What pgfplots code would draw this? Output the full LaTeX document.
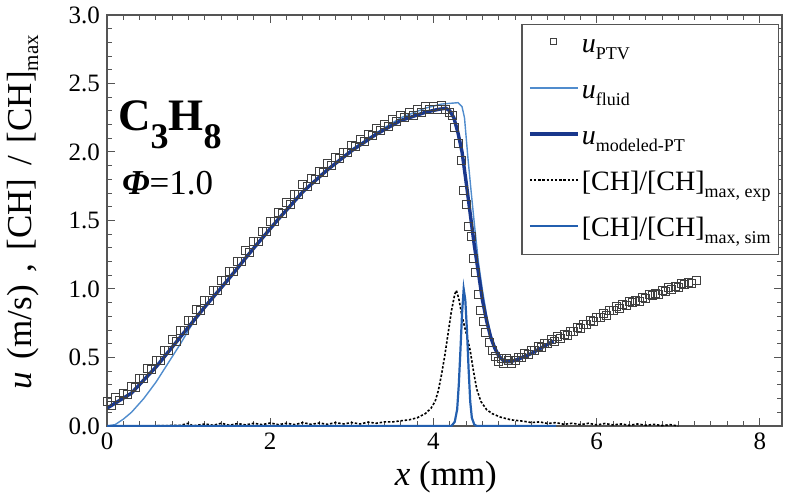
\documentclass[border=0pt]{standalone}
\usepackage{fontspec}
\setmainfont{Liberation Serif}
\usepackage{pgfplots}
\pgfplotsset{compat=1.18}
\usetikzlibrary{calc}

\definecolor{cfluid}{RGB}{80,140,205}
\definecolor{cmod}{RGB}{25,55,140}
\definecolor{csim}{RGB}{35,95,175}
\definecolor{caxis}{RGB}{85,85,85}

\newcommand{\sub}[1]{\raisebox{-3.5pt}{\fontsize{9}{10}\selectfont #1}}
\newcommand{\gap}{\hspace{0.37em}}

\begin{document}
\begin{tikzpicture}
\begin{axis}[
  name=ax,
  width=337.5pt, height=205.5pt, scale only axis,
  xmin=0, xmax=8.27, ymin=0, ymax=3,
  xtick={0,2,4,6,8}, ytick={0,0.5,1,1.5,2,2.5,3},
  minor x tick num=9, minor y tick num=4,
  tick align=inside,
  major tick length=4pt, minor tick length=2.5pt,
  axis line style={caxis, line width=0.6pt},
  tick style={caxis, line width=0.5pt},
  /pgf/number format/assume math mode=true,
  tick label style={font=\fontsize{12.5}{14}\selectfont},
  yticklabel style={/pgf/number format/fixed, /pgf/number format/fixed zerofill, /pgf/number format/precision=1},
  xlabel={\textit{x} (mm)},
  ylabel={\textit{u}\gap(m/s)\gap,\gap[CH]\gap/\gap[CH]\raisebox{-3.5pt}{\fontsize{10.5}{12}\selectfont max}},
  xlabel style={font=\fontsize{17.5}{19}\selectfont, at={(axis description cs:0.502,-0.125)}, anchor=center},
  ylabel style={font=\fontsize{17.5}{19}\selectfont, inner sep=0pt, at={(axis description cs:-0.125,0.52)}, anchor=center},
  legend cell align=left,
  legend style={at={(rel axis cs:0.996,0.978)}, anchor=north east, draw=caxis, line width=0.6pt,
    font=\fontsize{14}{16}\selectfont, row sep=3pt, inner xsep=3pt, inner ysep=1.5pt,
    nodes={inner ysep=1.5pt, inner xsep=1pt, text height=11pt, text depth=6pt}},
  legend image code/.code={\draw[mark repeat=2,mark phase=2,#1] plot coordinates {(0cm,0.1cm) (0.42cm,0.1cm) (0.85cm,0.1cm)};},
]

% u_PTV
\addplot[only marks, mark=square, mark size=2pt, mark options={draw=black!75, line width=0.45pt, fill=none},
  legend image post style={mark size=1.5pt}] coordinates {
(0.00,0.18)(0.05,0.15)(0.10,0.21)(0.15,0.19)(0.20,0.24)(0.25,0.23)(0.30,0.29)(0.35,0.28)(0.40,0.35)
(0.45,0.35)(0.50,0.42)(0.55,0.41)(0.60,0.48)(0.65,0.48)(0.70,0.55)(0.75,0.55)(0.80,0.63)(0.85,0.62)
(0.90,0.70)(0.95,0.70)(1.00,0.77)(1.05,0.77)(1.10,0.85)(1.15,0.84)(1.20,0.92)(1.25,0.92)(1.30,0.99)
(1.35,0.99)(1.40,1.06)(1.45,1.06)(1.50,1.13)(1.55,1.13)(1.60,1.20)(1.65,1.20)(1.70,1.28)(1.75,1.27)
(1.80,1.35)(1.85,1.35)(1.90,1.42)(1.95,1.42)(2.00,1.49)(2.05,1.49)(2.10,1.56)(2.15,1.55)(2.20,1.63)
(2.25,1.62)(2.30,1.69)(2.35,1.69)(2.40,1.76)(2.45,1.75)(2.50,1.81)(2.55,1.80)(2.60,1.86)(2.65,1.85)
(2.70,1.92)(2.75,1.90)(2.80,1.96)(2.85,1.95)(2.90,2.00)(2.95,2.00)(3.00,2.05)(3.05,2.04)(3.10,2.09)
(3.15,2.08)(3.20,2.13)(3.25,2.12)(3.30,2.17)(3.35,2.16)(3.40,2.20)(3.45,2.19)(3.50,2.24)(3.55,2.22)
(3.60,2.27)(3.65,2.25)(3.70,2.29)(3.75,2.27)(3.80,2.31)(3.85,2.29)(3.90,2.33)(3.95,2.31)(4.00,2.33)
(4.05,2.31)(4.10,2.34)(4.15,2.31)
(4.20,2.29)(4.23,2.27)(4.26,2.18)(4.30,2.06)(4.34,1.94)(4.37,1.72)(4.40,1.62)(4.43,1.46)(4.46,1.38)
(4.49,1.22)(4.52,1.12)(4.55,0.96)(4.58,0.84)(4.61,0.76)(4.64,0.68)(4.68,0.61)(4.72,0.55)(4.76,0.51)
(4.80,0.47)(4.83,0.49)
(4.86,0.46)(4.89,0.49)(4.92,0.48)(4.96,0.46)(5.00,0.48)(5.04,0.50)(5.08,0.50)(5.12,0.53)(5.16,0.52)
(5.20,0.55)(5.24,0.55)(5.28,0.58)(5.32,0.57)(5.36,0.60)(5.40,0.60)(5.44,0.63)(5.48,0.62)(5.52,0.65)
(5.56,0.64)(5.60,0.67)(5.64,0.66)(5.68,0.69)(5.72,0.69)(5.76,0.72)(5.80,0.71)(5.84,0.74)(5.88,0.74)
(5.92,0.77)(5.96,0.76)(6.00,0.79)(6.04,0.79)(6.08,0.82)(6.12,0.81)(6.16,0.84)(6.20,0.84)(6.24,0.87)
(6.28,0.86)(6.32,0.89)(6.36,0.88)(6.40,0.91)(6.44,0.90)(6.48,0.92)(6.52,0.91)(6.56,0.94)(6.60,0.93)
(6.64,0.96)(6.68,0.95)(6.72,0.97)(6.76,0.96)(6.80,0.99)(6.84,0.98)(6.88,1.01)(6.92,1.00)(6.96,1.02)
(7.00,1.01)(7.04,1.04)(7.08,1.03)(7.12,1.05)(7.16,1.04)(7.22,1.06)
};
\addlegendentry{\textit{u}\sub{PTV}}

% u_fluid
\addplot[cfluid, line width=0.7pt] coordinates {
(0,0.0)(0.1,0.01)(0.2,0.05)(0.3,0.1)(0.45,0.2)(0.6,0.32)(0.75,0.46)(0.9,0.6)(1.05,0.75)(1.2,0.87)
(1.35,0.98)(1.5,1.08)(1.8,1.30)(2.1,1.51)(2.4,1.71)(2.7,1.87)(3.0,2.02)(3.3,2.14)(3.6,2.25)(3.9,2.32)
(4.1,2.35)(4.3,2.36)(4.35,2.33)(4.38,2.25)(4.42,1.97)(4.46,1.72)(4.5,1.48)(4.55,1.20)(4.6,0.99)
(4.65,0.81)(4.7,0.67)(4.75,0.58)(4.8,0.52)(4.86,0.48)(4.93,0.47)(5.0,0.48)(5.2,0.53)(5.35,0.58)(5.47,0.62)
};
\addlegendentry{\textit{u}\sub{fluid}}

% u_modeled-PT
\addplot[cmod, line width=1.7pt] coordinates {
(0,0.13)(0.3,0.24)(0.6,0.43)(0.9,0.65)(1.2,0.87)(1.5,1.08)(1.8,1.30)(2.1,1.51)(2.4,1.71)(2.7,1.87)
(3.0,2.01)(3.3,2.13)(3.6,2.23)(3.9,2.29)(4.05,2.31)(4.15,2.32)(4.2,2.30)(4.25,2.25)(4.3,2.14)(4.35,2.0)
(4.4,1.78)(4.45,1.55)(4.5,1.32)(4.55,1.12)(4.6,0.92)(4.65,0.77)(4.7,0.65)(4.75,0.57)(4.8,0.51)
(4.87,0.47)(4.95,0.47)(5.05,0.49)(5.2,0.53)(5.35,0.58)(5.47,0.62)
};
\addlegendentry{\textit{u}\sub{modeled-PT}}

% [CH]/[CH]max exp
\addplot[black, line width=0.8pt, dash pattern=on 1.2pt off 0.9pt] coordinates {
(0,0.0)(0.5,0.0)(0.9,0.005)(1.0,0.02)(1.05,0.0)(1.2,0.015)(1.3,0.005)(1.4,0.02)(1.5,0.005)(1.6,0.018)
(1.7,0.008)(1.8,0.02)(1.9,0.01)(2.0,0.022)(2.1,0.01)(2.2,0.02)(2.3,0.01)(2.4,0.025)(2.5,0.012)(2.6,0.022)
(2.7,0.012)(2.8,0.025)(2.9,0.015)(3.0,0.025)(3.1,0.015)(3.2,0.028)(3.3,0.02)(3.4,0.03)(3.5,0.03)(3.6,0.038)
(3.7,0.045)(3.8,0.06)(3.9,0.09)(3.97,0.13)(4.02,0.18)(4.06,0.26)(4.1,0.38)(4.14,0.52)(4.18,0.68)(4.22,0.84)
(4.26,0.96)(4.28,0.99)(4.31,0.93)(4.35,0.8)(4.4,0.68)(4.45,0.55)(4.49,0.4)(4.53,0.27)(4.58,0.18)(4.65,0.12)
(4.72,0.09)(4.82,0.065)(4.95,0.045)(5.1,0.035)(5.2,0.025)(5.3,0.03)(5.4,0.018)(5.5,0.025)(5.6,0.012)
(5.7,0.02)(5.8,0.01)(5.9,0.02)(6.0,0.008)(6.1,0.018)(6.2,0.008)(6.3,0.015)(6.4,0.005)(6.5,0.015)
(6.6,0.005)(6.7,0.012)(6.8,0.003)(6.9,0.01)(7.0,0.0)
};
\addlegendentry{[CH]/[CH]\sub{max, exp}}

% [CH]/[CH]max sim
\addplot[csim, line width=1.1pt] coordinates {
(0,0)(4.22,0)(4.26,0.03)(4.29,0.12)(4.31,0.3)(4.33,0.55)(4.35,0.82)(4.37,1.0)(4.39,0.92)(4.41,0.7)
(4.43,0.42)(4.45,0.18)(4.47,0.06)(4.50,0.01)(4.53,0)(5.5,0)
};
\addlegendentry{[CH]/[CH]\sub{max, sim}}

\node[anchor=base west, inner sep=0pt] at (axis cs:0.13,2.16)
  {\fontsize{22.5}{24}\selectfont\bfseries C\raisebox{-9pt}{\fontsize{18}{19}\selectfont 3}H\raisebox{-9pt}{\fontsize{18}{19}\selectfont 8}};
\node[anchor=base west, inner sep=0pt] at (axis cs:0.18,1.69)
  {\fontsize{17.5}{19}\selectfont\textbf{\textit{Φ}}=1.0};
\end{axis}
\pgfresetboundingbox
\path[use as bounding box] ($(ax.south west)+(-53.5pt,-35.5pt)$) rectangle ($(ax.north east)+(1.5pt,7.5pt)$);
\end{tikzpicture}
\end{document}
